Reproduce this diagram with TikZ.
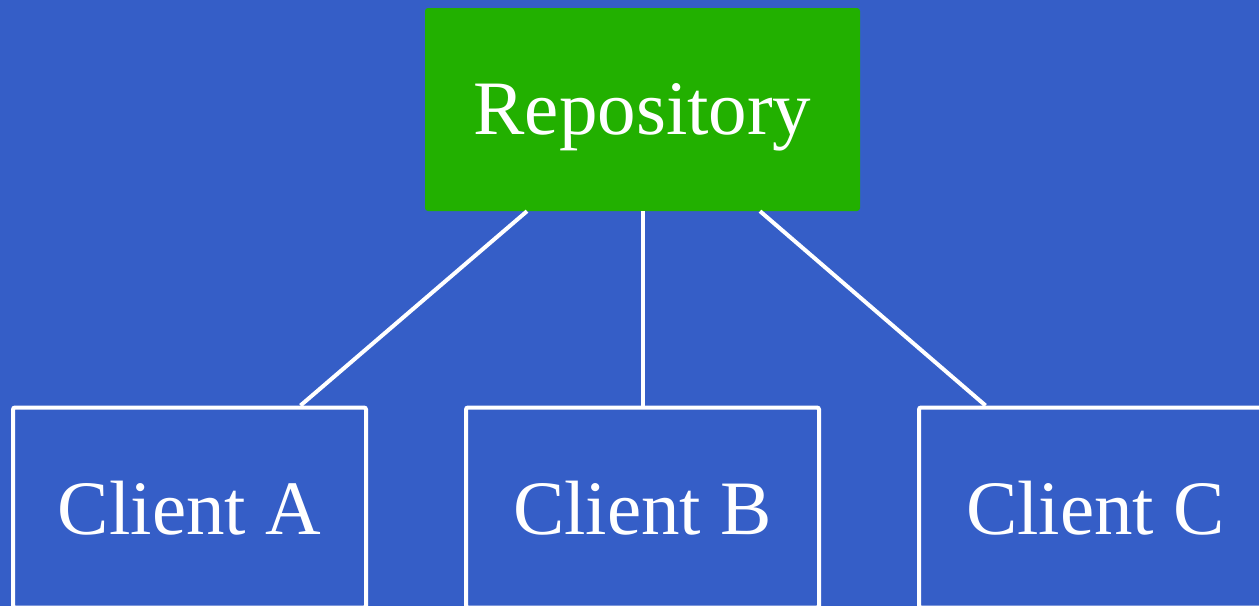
\documentclass[tikz,border=0pt]{standalone}
\usepackage{fontspec}
\setmainfont{Liberation Serif}
\definecolor{bgblue}{HTML}{355EC7}
\definecolor{repogreen}{HTML}{22B000}
\begin{document}
\begin{tikzpicture}[x=1pt,y=-1pt,
  repobox/.style={rectangle, fill=repogreen, rounded corners=3pt, inner sep=0pt,
    minimum width=435pt, minimum height=203pt, text=white,
    font=\fontsize{77}{80}\selectfont, text height=60pt, text depth=10pt},
  clientbox/.style={rectangle, draw=white, line width=4pt, fill=bgblue, rounded corners=2pt,
    inner sep=0pt, minimum width=353pt, minimum height=200pt, text=white,
    font=\fontsize{77}{80}\selectfont, text height=60pt, text depth=7pt},
  link/.style={draw=white, line width=4pt}]
\useasboundingbox (0,0) rectangle (1259,606);
\clip (0,0) rectangle (1259,606);
\fill[bgblue] (0,0) rectangle (1259,606);
\node[repobox] (repo) at (642.5,109.5) {Repository};
\node[clientbox] (ca) at (189.5,507.5) {Client A};
\node[clientbox] (cb) at (642.5,507.5) {Client B};
\node[clientbox] (cc) at (1095.5,507.5) {Client C};
\coordinate (ra) at ([xshift=-115.5pt]repo.south);
\coordinate (rb) at (repo.south);
\coordinate (rc) at ([xshift=117.5pt]repo.south);
\coordinate (ta) at ([xshift=111pt]ca.north);
\coordinate (tb) at (cb.north);
\coordinate (tc) at ([xshift=-110pt]cc.north);
\draw[link] (ra) -- (ta);
\draw[link] (rb) -- (tb);
\draw[link] (rc) -- (tc);
\end{tikzpicture}
\end{document}
